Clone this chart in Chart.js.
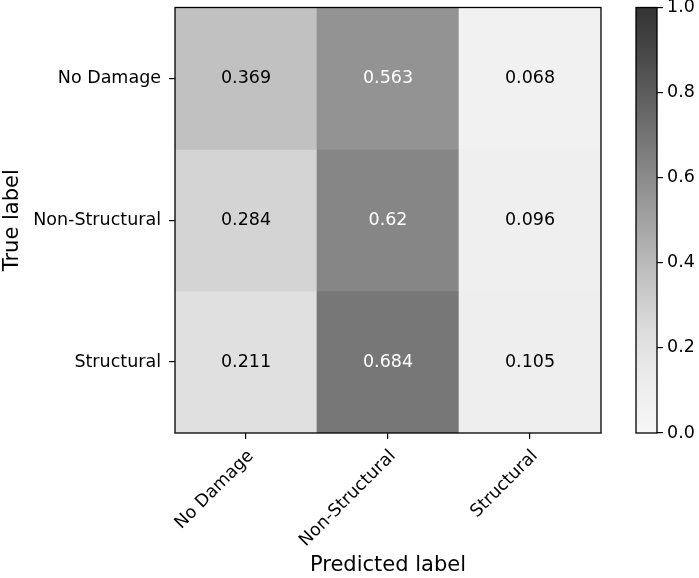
<!DOCTYPE html>
<html>
<head>
<meta charset="utf-8">
<script src="https://cdn.jsdelivr.net/npm/chart.js@4"></script>
<style>
  body { margin: 0; background: #fff; }
  #wrap { position: relative; width: 699px; height: 578px; }
  canvas { position: absolute; left: 0; top: 0; }
</style>
</head>
<body>
<div id="wrap">
  <canvas id="matrix" width="699" height="578"></canvas>
  <canvas id="cbar" width="699" height="578"></canvas>
</div>
<script>
// confusion matrix (normalized by true label)
const predLabels = ['No Damage', 'Non-Structural', 'Structural'];
const trueLabels = ['No Damage', 'Non-Structural', 'Structural'];
const rowNoDamage = [0.369, 0.563, 0.068];
const rowNonStructural = [0.284, 0.62, 0.096];
const rowStructural = [0.211, 0.684, 0.105];
const cbarTicks = [0, 0.2, 0.4, 0.6, 0.8, 1.0];

const rows = [rowNoDamage, rowNonStructural, rowStructural];

// grey colormap, value -> grey level
const cmapStops = [[0, 247], [0.125, 236], [0.25, 219], [0.375, 192], [0.5, 162],
                   [0.625, 133], [0.75, 104], [0.875, 76], [1, 51]];

function grey(v) {
    for (let i = 1; i < cmapStops.length; i++) {
        const a = cmapStops[i - 1], b = cmapStops[i];
        if (v <= b[0]) {
            const t = (v - a[0]) / (b[0] - a[0]);
            const g = Math.round(a[1] + (b[1] - a[1]) * t);
            return 'rgb(' + g + ',' + g + ',' + g + ')';
        }
    }
    return 'rgb(51,51,51)';
}

const FONT = "'DejaVu Sans', sans-serif";
const allVals = rows.flat();
const thresh = (Math.max(...allVals) + Math.min(...allVals)) / 2;

// no extra room for edge labels, chart area is set by layout padding
function noPad(s) {
    s.paddingTop = 0; s.paddingBottom = 0; s.paddingLeft = 0; s.paddingRight = 0;
}

const framePlugin = {
    id: 'frame',
    afterDraw(chart) {
        const a = chart.chartArea, ctx = chart.ctx;
        ctx.save();
        ctx.strokeStyle = '#000';
        ctx.lineWidth = 1.3;
        ctx.strokeRect(a.left, a.top, a.right - a.left, a.bottom - a.top);
        ctx.restore();
    }
};

const cellText = {
    id: 'cellText',
    afterDatasetsDraw(chart) {
        const ctx = chart.ctx;
        ctx.save();
        ctx.font = '17.5px ' + FONT;
        ctx.textAlign = 'center';
        ctx.textBaseline = 'middle';
        chart.data.datasets.forEach((ds, di) => {
            chart.getDatasetMeta(di).data.forEach((bar, i) => {
                const v = rows[di][i];
                ctx.fillStyle = v > thresh ? '#fff' : '#000';
                ctx.fillText(String(v), bar.x, (bar.y + bar.base) / 2);
            });
        });
        ctx.restore();
    }
};

new Chart(document.getElementById('matrix'), {
    type: 'bar',
    data: {
        labels: predLabels,
        datasets: rows.map((r, ri) => ({
            label: trueLabels[ri],
            data: r.map(() => [ri, ri + 1]),
            backgroundColor: r.map(v => grey(v)),
            borderWidth: 0,
            grouped: false,
            barPercentage: 1,
            categoryPercentage: 1
        }))
    },
    options: {
        responsive: false,
        animation: false,
        layout: { padding: { top: 7.5, right: 98, left: 0, bottom: 0 } },
        plugins: { legend: { display: false }, tooltip: { enabled: false } },
        scales: {
            x: {
                offset: true,
                grid: { offset: false, drawOnChartArea: false, tickLength: 6, color: '#000', lineWidth: 1.2 },
                border: { display: false },
                ticks: { color: '#000', font: { family: FONT, size: 17.5 }, minRotation: 45, maxRotation: 45, padding: 7, labelOffset: 5 },
                title: { display: true, text: 'Predicted label', color: '#000', font: { family: FONT, size: 21 }, padding: { top: 0, bottom: 0 } },
                afterFit(s) { s.height = 145; noPad(s); }
            },
            y: {
                type: 'linear',
                min: 0,
                max: 3,
                reverse: true,
                afterBuildTicks(s) { s.ticks = trueLabels.map((_, i) => ({ value: i + 0.5 })); },
                grid: { drawOnChartArea: false, tickLength: 6, color: '#000', lineWidth: 1.2 },
                border: { display: false },
                ticks: {
                    color: '#000',
                    font: { family: FONT, size: 17.5 },
                    padding: 8,
                    callback: (v) => trueLabels[Math.floor(v)]
                },
                title: { display: true, text: 'True label', color: '#000', font: { family: FONT, size: 21 }, padding: 0 },
                afterFit(s) { s.width = 175; noPad(s); }
            }
        }
    },
    plugins: [cellText, framePlugin]
});

new Chart(document.getElementById('cbar'), {
    type: 'bar',
    data: {
        labels: [''],
        datasets: [{
            data: [[0, 1]],
            borderWidth: 0,
            barPercentage: 1,
            categoryPercentage: 1,
            backgroundColor(c) {
                const a = c.chart.chartArea;
                if (!a) return '#888';
                const g = c.chart.ctx.createLinearGradient(0, a.bottom, 0, a.top);
                cmapStops.forEach(s => g.addColorStop(s[0], grey(s[0])));
                return g;
            }
        }]
    },
    options: {
        responsive: false,
        animation: false,
        layout: { padding: { left: 636, top: 7.5, bottom: 145, right: 0 } },
        plugins: { legend: { display: false }, tooltip: { enabled: false } },
        scales: {
            x: { display: false, offset: true },
            y: {
                position: 'right',
                min: 0,
                max: 1,
                afterBuildTicks(s) { s.ticks = cbarTicks.map(v => ({ value: v })); },
                grid: { drawOnChartArea: false, tickLength: 6, color: '#000', lineWidth: 1.2 },
                border: { display: false },
                ticks: { color: '#000', font: { family: FONT, size: 17.5 }, padding: 4, callback: (v) => v.toFixed(1) },
                afterFit(s) { s.width = 42; noPad(s); }
            }
        }
    },
    plugins: [framePlugin]
});
</script>
</body>
</html>
